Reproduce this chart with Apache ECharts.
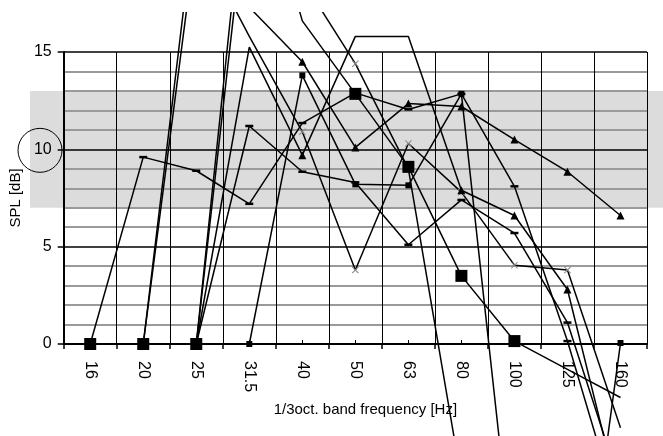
<!DOCTYPE html>
<html>
<head>
<meta charset="utf-8">
<script src="https://cdn.jsdelivr.net/npm/echarts@6/dist/echarts.min.js"></script>
<style>
  html, body { margin: 0; padding: 0; background: #fff; }
  #chart { width: 663px; height: 436px; }
</style>
</head>
<body>
<div id="chart"></div>
<script>
// 1/3 octave band SPL curves
const cats = ['16', '20', '25', '31.5', '40', '50', '63', '80', '100', '125', '160']
const yTicks = [0, 5, 10, 15]
// values per series, one per band (values outside 0..15 run off the plot)
const bigSquare = [0, 0, 0, 26, 16.6, 12.85, 9.1, 3.5, 0.15, -1.3, -2.75]
const smallSquare = [0, 0, 0, 0, 13.8, 8.2, 8.15, 12.85, -12, -20, 0.05]
const triangleA = [0, 0, 22.6, 17.3, 14.5, 10.1, 12.35, 12.2, 10.5, 8.85, 6.6]
const triangleB = [0, 0, 0, 15.25, 9.7, 15.8, 15.8, 7.9, 6.6, 2.8, -8.2]
const crossA = [0, 0, 21, 15.8, 10.9, 3.8, 10.3, 7.8, 4.05, 3.8, -4.3]
const crossB = [0, 0, 0, 24, 18.7, 14.4, 9.0, -7, -15, -20, -25]
const dashA = [0, 9.6, 8.9, 7.2, 11.35, 12.9, 12.05, 12.85, 8.1, 0.15, -9]
const dashB = [0, 0, 0, 11.2, 8.85, 8.3, 5.1, 7.4, 5.7, 1.1, -7.3]
// grey target band
const bandLow = 7
const bandHigh = 13

const FONT = 'Liberation Sans, Arial, sans-serif'
const X_PATH = 'path://M0,1L1,0L5,4L9,0L10,1L6,5L10,9L9,10L5,6L1,10L0,9L4,5Z'

// no marker where the point is outside the plot
function pts(arr) {
  return arr.map(v => (v < 0 || v > 15) ? { value: v, symbol: 'none' } : { value: v })
}

function line(name, data, symbol, size, color) {
  return {
    name,
    type: 'line',
    data: pts(data),
    symbol,
    symbolSize: size,
    showAllSymbol: true,
    clip: false,
    lineStyle: { color: '#000', width: 1.5 },
    itemStyle: { color: color || '#000' },
  }
}

const chart = echarts.init(document.getElementById('chart'))
chart.setOption({
  animation: false,
  backgroundColor: '#fff',
  grid: { left: 62, right: 16, top: 52, bottom: 92 },
  xAxis: [
    {
      type: 'category',
      data: cats,
      boundaryGap: true,
      name: '1/3oct. band frequency [Hz]',
      nameLocation: 'middle',
      nameGap: 58,
      nameTextStyle: { fontFamily: FONT, fontSize: 15, color: '#000', padding: [0, 0, 0, 20] },
      axisLine: { lineStyle: { color: '#000', width: 2 } },
      axisTick: { show: true, length: 5, lineStyle: { color: '#000', width: 1.5 } },
      axisLabel: { rotate: -90, margin: 17, fontFamily: FONT, fontSize: 16, color: '#000' },
      splitLine: { show: true, lineStyle: { color: '#000', width: 1 } },
    },
    {
      type: 'category',
      data: cats,
      position: 'bottom',
      axisLine: { show: false },
      axisTick: { show: true, alignWithLabel: true, inside: true, length: 4, lineStyle: { color: '#000' } },
      axisLabel: { show: false },
      splitLine: { show: false },
    },
  ],
  yAxis: {
    type: 'value',
    min: yTicks[0],
    max: yTicks[yTicks.length - 1],
    interval: 5,
    name: 'SPL [dB]',
    nameLocation: 'middle',
    nameGap: 28,
    nameTextStyle: { fontFamily: FONT, fontSize: 15, color: '#000' },
    axisLine: { show: true, lineStyle: { color: '#000', width: 2 } },
    axisTick: { show: true, length: 6, lineStyle: { color: '#000', width: 1.5 } },
    axisLabel: { margin: 12, fontFamily: FONT, fontSize: 16, color: '#000' },
    splitLine: { show: true, lineStyle: { color: '#000', width: 1.5 } },
    minorTick: { show: false, splitNumber: 5 },
    minorSplitLine: { show: true, lineStyle: { color: '#9a9a9a', width: 2 } },
  },
  series: [
    line('dashA', dashA, 'rect', [8, 2.5]),
    line('dashB', dashB, 'rect', [8, 2.5]),
    line('crossA', crossA, X_PATH, 7, '#888'),
    line('crossB', crossB, X_PATH, 7, '#888'),
    line('triangleA', triangleA, 'triangle', 8),
    line('triangleB', triangleB, 'triangle', 8),
    line('smallSquare', smallSquare, 'rect', 6),
    line('bigSquare', bigSquare, 'rect', 12),
  ],
})

// band behind the grid, circle round the 10 label, white strip at the top edge
const yHi = chart.convertToPixel({ yAxisIndex: 0 }, bandHigh)
const yLo = chart.convertToPixel({ yAxisIndex: 0 }, bandLow)
const y10 = chart.convertToPixel({ yAxisIndex: 0 }, 10)
chart.setOption({
  graphic: [
    {
      type: 'rect',
      z: -10,
      silent: true,
      shape: { x: 30, y: yHi, width: 663 - 30, height: yLo - yHi },
      style: { fill: '#dcdcdc' },
    },
    {
      type: 'circle',
      z: 50,
      silent: true,
      shape: { cx: 40, cy: y10 + 1, r: 22 },
      style: { fill: 'none', stroke: '#000', lineWidth: 1 },
    },
    {
      type: 'rect',
      z: 100,
      silent: true,
      shape: { x: 0, y: 0, width: 663, height: 12 },
      style: { fill: '#fff' },
    },
  ],
})
</script>
</body>
</html>
